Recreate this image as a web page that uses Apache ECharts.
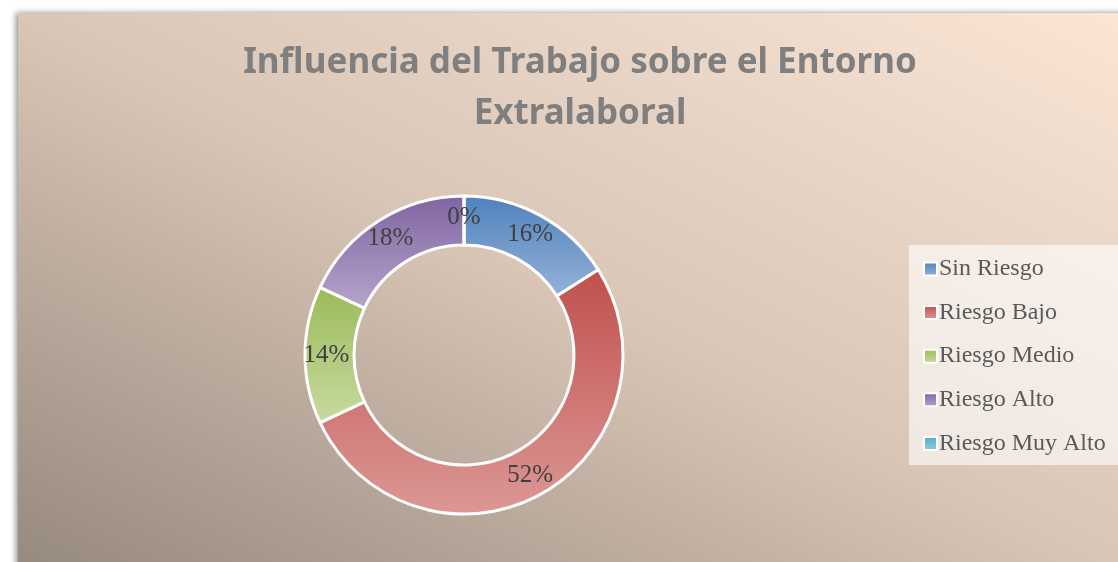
<!DOCTYPE html>
<html><head><meta charset="utf-8">
<script src="https://cdn.jsdelivr.net/npm/echarts@6/dist/echarts.min.js"></script>
<style>html,body{margin:0;padding:0;background:#fff;}#c{width:1118px;height:562px;}</style>
</head><body><div id="c"></div>
<script>
const categories = ['Sin Riesgo', 'Riesgo Bajo', 'Riesgo Medio', 'Riesgo Alto', 'Riesgo Muy Alto'];
const values = [16, 52, 14, 18, 0];
const titleText = 'Influencia del Trabajo sobre el Entorno\nExtralaboral';

const palette = [
  ['#4f81bd', '#95b3d7'],
  ['#c0504d', '#dc9896'],
  ['#9bbb59', '#c7da9f'],
  ['#8064a2', '#b5a5ca'],
  ['#4bacc6', '#93cddd']
];
function grad(c) {
  return new echarts.graphic.LinearGradient(0, 0, 0, 1, [{offset: 0, color: c[0]}, {offset: 1, color: c[1]}]);
}
const chart = echarts.init(document.getElementById('c'), null, {renderer: 'canvas'});
chart.setOption({
  animation: false,
  graphic: [{
    type: 'rect', z: -10,
    shape: {x: 18, y: 13, width: 1120, height: 560},
    style: {
      fill: new echarts.graphic.LinearGradient(1118, 13, 679, 892, [
        {offset: 0, color: '#fbe6d6'},
        {offset: 0.5, color: '#d9c6b6'},
        {offset: 1, color: '#978a7f'}
      ], true),
      shadowBlur: 6, shadowColor: 'rgba(0,0,0,0.45)', shadowOffsetX: -2, shadowOffsetY: 0
    }
  }, {
    type: 'rect', z: -5,
    shape: {x: 909, y: 245, width: 209, height: 220},
    style: {fill: 'rgba(255,255,255,0.6)'}
  }],
  title: {
    text: titleText, left: 575, top: 33, textAlign: 'center',
    textStyle: {fontFamily: 'Noto Sans', fontWeight: 'bold', fontSize: 35, color: '#7f7f7f', lineHeight: 51}
  },
  legend: {
    orient: 'vertical', left: 918, top: 252, itemGap: 19.6,
    itemWidth: 13, itemHeight: 13, icon: 'rect',
    itemStyle: {borderColor: '#fff', borderWidth: 2},
    textStyle: {fontFamily: 'Liberation Serif', fontSize: 24, color: '#595959', padding: [0, 0, 0, -3]},
    data: categories
  },
  series: [{
    type: 'pie', center: [464, 355], radius: [110, 159],
    startAngle: 90, clockwise: true, avoidLabelOverlap: false,
    itemStyle: {borderColor: '#fff', borderWidth: 3},
    label: {
      position: 'inside', formatter: '{d}%', precision: 0,
      fontFamily: 'Liberation Serif', fontSize: 25, color: '#404040'
    },
    labelLine: {show: false},
    emphasis: {disabled: true},
    data: categories.map((n, i) => ({name: n, value: values[i], itemStyle: {color: grad(palette[i])}}))
  }]
});
</script></body></html>
